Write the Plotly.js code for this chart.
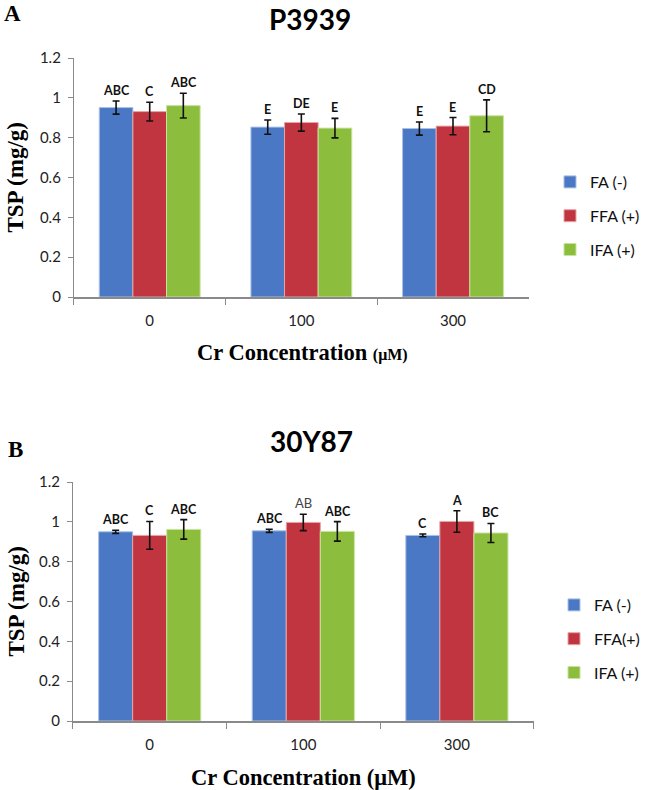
<!DOCTYPE html>
<html><head><meta charset="utf-8">
<script src="https://cdn.plot.ly/plotly-3.0.1.min.js"></script>
<style>html,body{margin:0;padding:0;background:#fff}#chart{width:645px;height:790px}</style>
</head><body><div id="chart"></div>
<script>
const categories = ['0', '100', '300'];
const seriesNamesA = ['FA (-)', 'FFA (+)', 'IFA (+)'];
const seriesNamesB = ['FA (-)', 'FFA(+)', 'IFA (+)'];

// Panel A: P3939
const faA = [0.951, 0.853, 0.846];
const ffaA = [0.931, 0.876, 0.858];
const ifaA = [0.961, 0.848, 0.910];
const faAErr = [0.033, 0.036, 0.033];
const ffaAErr = [0.047, 0.043, 0.043];
const ifaAErr = [0.062, 0.049, 0.080];
const faALetters = ['ABC', 'E', 'E'];
const ffaALetters = ['C', 'DE', 'E'];
const ifaALetters = ['ABC', 'E', 'CD'];

// Panel B: 30Y87
const faB = [0.950, 0.955, 0.932];
const ffaB = [0.932, 0.997, 1.002];
const ifaB = [0.962, 0.952, 0.944];
const faBErr = [0.008, 0.008, 0.007];
const ffaBErr = [0.070, 0.041, 0.054];
const ifaBErr = [0.049, 0.049, 0.048];
const faBLetters = ['ABC', 'ABC', 'C'];
const ffaBLetters = ['C', 'AB', 'A'];
const ifaBLetters = ['ABC', 'ABC', 'BC'];

const colors = ['#4a78c4', '#c0353f', '#8cbd3c'];
const edge = ['#a9c0e6', '#e6a4a8', '#c7e39c'];

const tickFont = {family: 'Lato, "Open Sans", sans-serif', size: 15, color: '#222'};
const letterFont = {family: 'Lato, "Open Sans", sans-serif', size: 12.5, color: '#111'};
const serif = '"Liberation Serif", "DejaVu Serif", serif';

function bars(vals, errs, names, xa, ya, legend) {
  return vals.map((v, i) => ({
    type: 'bar', x: categories, y: v, name: names[i],
    xaxis: xa, yaxis: ya, legend: legend, legendgroup: legend + i,
    marker: {color: colors[i], line: {color: edge[i], width: 1}},
    error_y: {type: 'data', array: errs[i], visible: true, color: '#111', thickness: 1.6, width: 3.5}
  }));
}

const data = [
  ...bars([faA, ffaA, ifaA], [faAErr, ffaAErr, ifaAErr], seriesNamesA, 'x', 'y', 'legend'),
  ...bars([faB, ffaB, ifaB], [faBErr, ffaBErr, ifaBErr], seriesNamesB, 'x2', 'y2', 'legend2')
];

const bargap = 0.335;
const barW = (1 - bargap) / 3;
function letterAnn(vals, errs, letters, xref, yref, light) {
  const out = [];
  vals.forEach((v, s) => {
    v.forEach((val, c) => {
      const isLight = light && light[s] && light[s][c];
      out.push({
        xref: xref, yref: yref, x: c + (s - 1) * barW, y: val + errs[s][c],
        text: isLight ? letters[s][c] : '<b>' + letters[s][c] + '</b>',
        showarrow: false, xanchor: 'center', yanchor: 'bottom', yshift: 1,
        font: isLight ? Object.assign({}, letterFont, {color: '#444', size: 13}) : letterFont
      });
    });
  });
  return out;
}

function label(x, y, text, font, extra) {
  return Object.assign({xref: 'paper', yref: 'paper', x: x / 645, y: 1 - y / 790, text: text,
    showarrow: false, xanchor: 'center', yanchor: 'middle', borderpad: 0, font: font}, extra || {});
}

const annotations = [
  ...letterAnn([faA, ffaA, ifaA], [faAErr, ffaAErr, ifaAErr], [faALetters, ffaALetters, ifaALetters], 'x', 'y'),
  ...letterAnn([faB, ffaB, ifaB], [faBErr, ffaBErr, ifaBErr], [faBLetters, ffaBLetters, ifaBLetters], 'x2', 'y2',
    [[false,false,false],[false,true,false],[false,false,false]]),
  label(319, 19, '<b>P3939</b>', {family:'Lato, sans-serif', size: 28, color:'#000'}),
  label(320, 441, '<b>30Y87</b>', {family:'Lato, sans-serif', size: 28, color:'#000'}),
  label(13, 14, '<b>A</b>', {family: serif, size: 23, color:'#000'}),
  label(15.5, 449, '<b>B</b>', {family: serif, size: 23, color:'#000'}),
  label(311, 353, '<b>Cr Concentration <span style="font-size:16px">(μM)</span></b>', {family: serif, size: 22.5, color:'#000'}),
  label(312, 777, '<b>Cr Concentration (μM)</b>', {family: serif, size: 22.5, color:'#000'}),
  label(16, 177, '<b>TSP (mg/g)</b>', {family: serif, size: 23, color:'#000'}, {textangle: -90}),
  label(16, 601, '<b>TSP (mg/g)</b>', {family: serif, size: 23, color:'#000'}, {textangle: -90})
];

const yBase = {range: [0, 1.2], dtick: 0.2, showgrid: false, zeroline: false,
  showline: true, linecolor: '#8a8a8a', linewidth: 1, ticks: 'outside', ticklen: 5, tickcolor: '#8a8a8a',
  tickfont: tickFont, ticklabelstandoff: 4, fixedrange: true};
const xBase = {type: 'category', showgrid: false, showline: true, linecolor: '#8a8a8a', linewidth: 1.5,
  ticks: 'outside', tickson: 'boundaries', ticklen: 6, tickcolor: '#8a8a8a', tickfont: tickFont,
  ticklabelstandoff: 9, fixedrange: true};

const legendBase = {xanchor: 'left', yanchor: 'top', bgcolor: 'rgba(0,0,0,0)',
  font: {family: 'Lato, "Open Sans", sans-serif', size: 16, color: '#111'},
  tracegroupgap: 10, itemwidth: 30, traceorder: 'grouped'};

const layout = {
  width: 645, height: 790, margin: {l: 0, r: 0, t: 0, b: 0},
  paper_bgcolor: '#fff', plot_bgcolor: '#fff',
  barmode: 'group', bargap: bargap, bargroupgap: 0,
  showlegend: true,
  xaxis: Object.assign({}, xBase, {domain: [76/645, 544/645], anchor: 'y'}),
  yaxis: Object.assign({}, yBase, {domain: [1 - 297/790, 1 - 58/790], anchor: 'x'}),
  xaxis2: Object.assign({}, xBase, {domain: [75/645, 549/645], anchor: 'y2'}),
  yaxis2: Object.assign({}, yBase, {domain: [1 - 721/790, 1 - 482/790], anchor: 'x2'}),
  legend: Object.assign({}, legendBase, {x: 566/645, y: 1 - 165/790}),
  legend2: Object.assign({}, legendBase, {x: 570/645, y: 1 - 588/790}),
  annotations: annotations
};

Plotly.newPlot('chart', data, layout, {displayModeBar: false, staticPlot: true});
</script></body></html>
